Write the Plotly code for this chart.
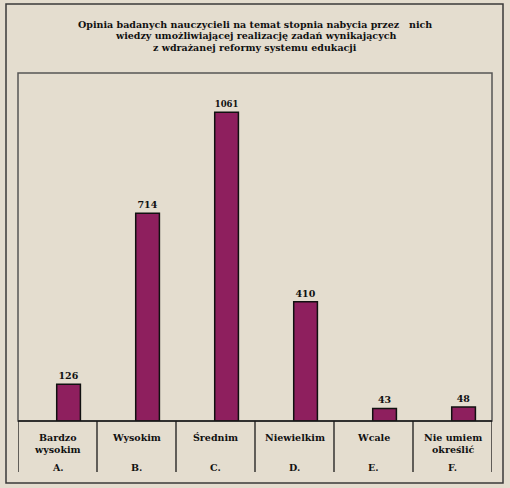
import plotly.graph_objects as go

# ---- data ----
title_lines = [
    "Opinia badanych nauczycieli na temat stopnia nabycia przez   nich",
    "wiedzy umożliwiającej realizację zadań wynikających",
    "z wdrażanej reformy systemu edukacji",
]
categories = ["Bardzo<br>wysokim", "Wysokim", "Średnim", "Niewielkim", "Wcale", "Nie umiem<br>określić"]
letters = ["A.", "B.", "C.", "D.", "E.", "F."]
values = [126, 714, 1061, 410, 43, 48]

W, H = 510, 488
BG = "#E4DDCF"
BAR = "#8E1F5E"
FONT = "DejaVu Serif"
FS = 9.5

def py(p):
    return 1 - p / H

def px(p):
    return p / W

n = len(values)
slot = list(range(n))
bar_x = [i + 0.64 for i in slot]

fig = go.Figure()
fig.add_trace(go.Bar(
    x=bar_x, y=values, width=0.30,
    marker=dict(color=BAR, line=dict(color="#111111", width=1.5)),
    text=[str(v) for v in values], textposition="outside",
    textfont=dict(family=FONT, size=FS, color="#111111", weight="bold"),
    cliponaxis=False, hoverinfo="skip",
))

plot_l, plot_r, plot_t, plot_b = 18, 492, 73, 421
shapes = [
    dict(type="rect", xref="paper", yref="paper", x0=px(6), x1=px(503), y0=py(483), y1=py(4),
         line=dict(color="#3a3a3a", width=1.5), layer="below"),
    dict(type="rect", xref="paper", yref="paper", x0=px(plot_l), x1=px(plot_r), y0=py(plot_b), y1=py(plot_t),
         line=dict(color="#555555", width=1.5), layer="below"),
    dict(type="line", xref="paper", yref="paper", x0=px(plot_l), x1=px(plot_r), y0=py(plot_b), y1=py(plot_b),
         line=dict(color="#1a1a1a", width=1.5)),
]
for i in range(n + 1):
    shapes.append(dict(type="line", xref="x", yref="paper", x0=i, x1=i, y0=py(plot_b), y1=py(472),
                       line=dict(color="#1a1a1a", width=1.3)))

annotations = []
for line, yp in zip(title_lines, [24, 36, 47]):
    annotations.append(dict(text=line, x=0.5, y=py(yp), xref="paper", yref="paper",
                            showarrow=False, xanchor="center", yanchor="middle",
                            font=dict(family=FONT, size=FS, color="#111111", weight="bold")))
for i in slot:
    annotations.append(dict(text=categories[i], x=i + 0.5, y=py(430), xref="x", yref="paper",
                            showarrow=False, xanchor="center", yanchor="top",
                            font=dict(family=FONT, size=FS, color="#111111", weight="bold")))
    annotations.append(dict(text=letters[i], x=i + 0.5, y=py(467), xref="x", yref="paper",
                            showarrow=False, xanchor="center", yanchor="middle",
                            font=dict(family=FONT, size=FS, color="#111111", weight="bold")))

fig.update_layout(
    width=W, height=H, margin=dict(l=0, r=0, t=0, b=0),
    paper_bgcolor=BG, plot_bgcolor=BG, showlegend=False,
    xaxis=dict(domain=[px(plot_l), px(plot_r)], range=[0, n], showgrid=False, zeroline=False,
               showticklabels=False, ticks="", fixedrange=True),
    yaxis=dict(domain=[py(plot_b), py(plot_t)], range=[0, 1196], showgrid=False, zeroline=False,
               showticklabels=False, ticks="", fixedrange=True),
    shapes=shapes, annotations=annotations,
)
fig.write_html("out.html", config={"displayModeBar": False},
               post_script="document.body.style.margin='0';document.body.style.overflow='hidden';")
